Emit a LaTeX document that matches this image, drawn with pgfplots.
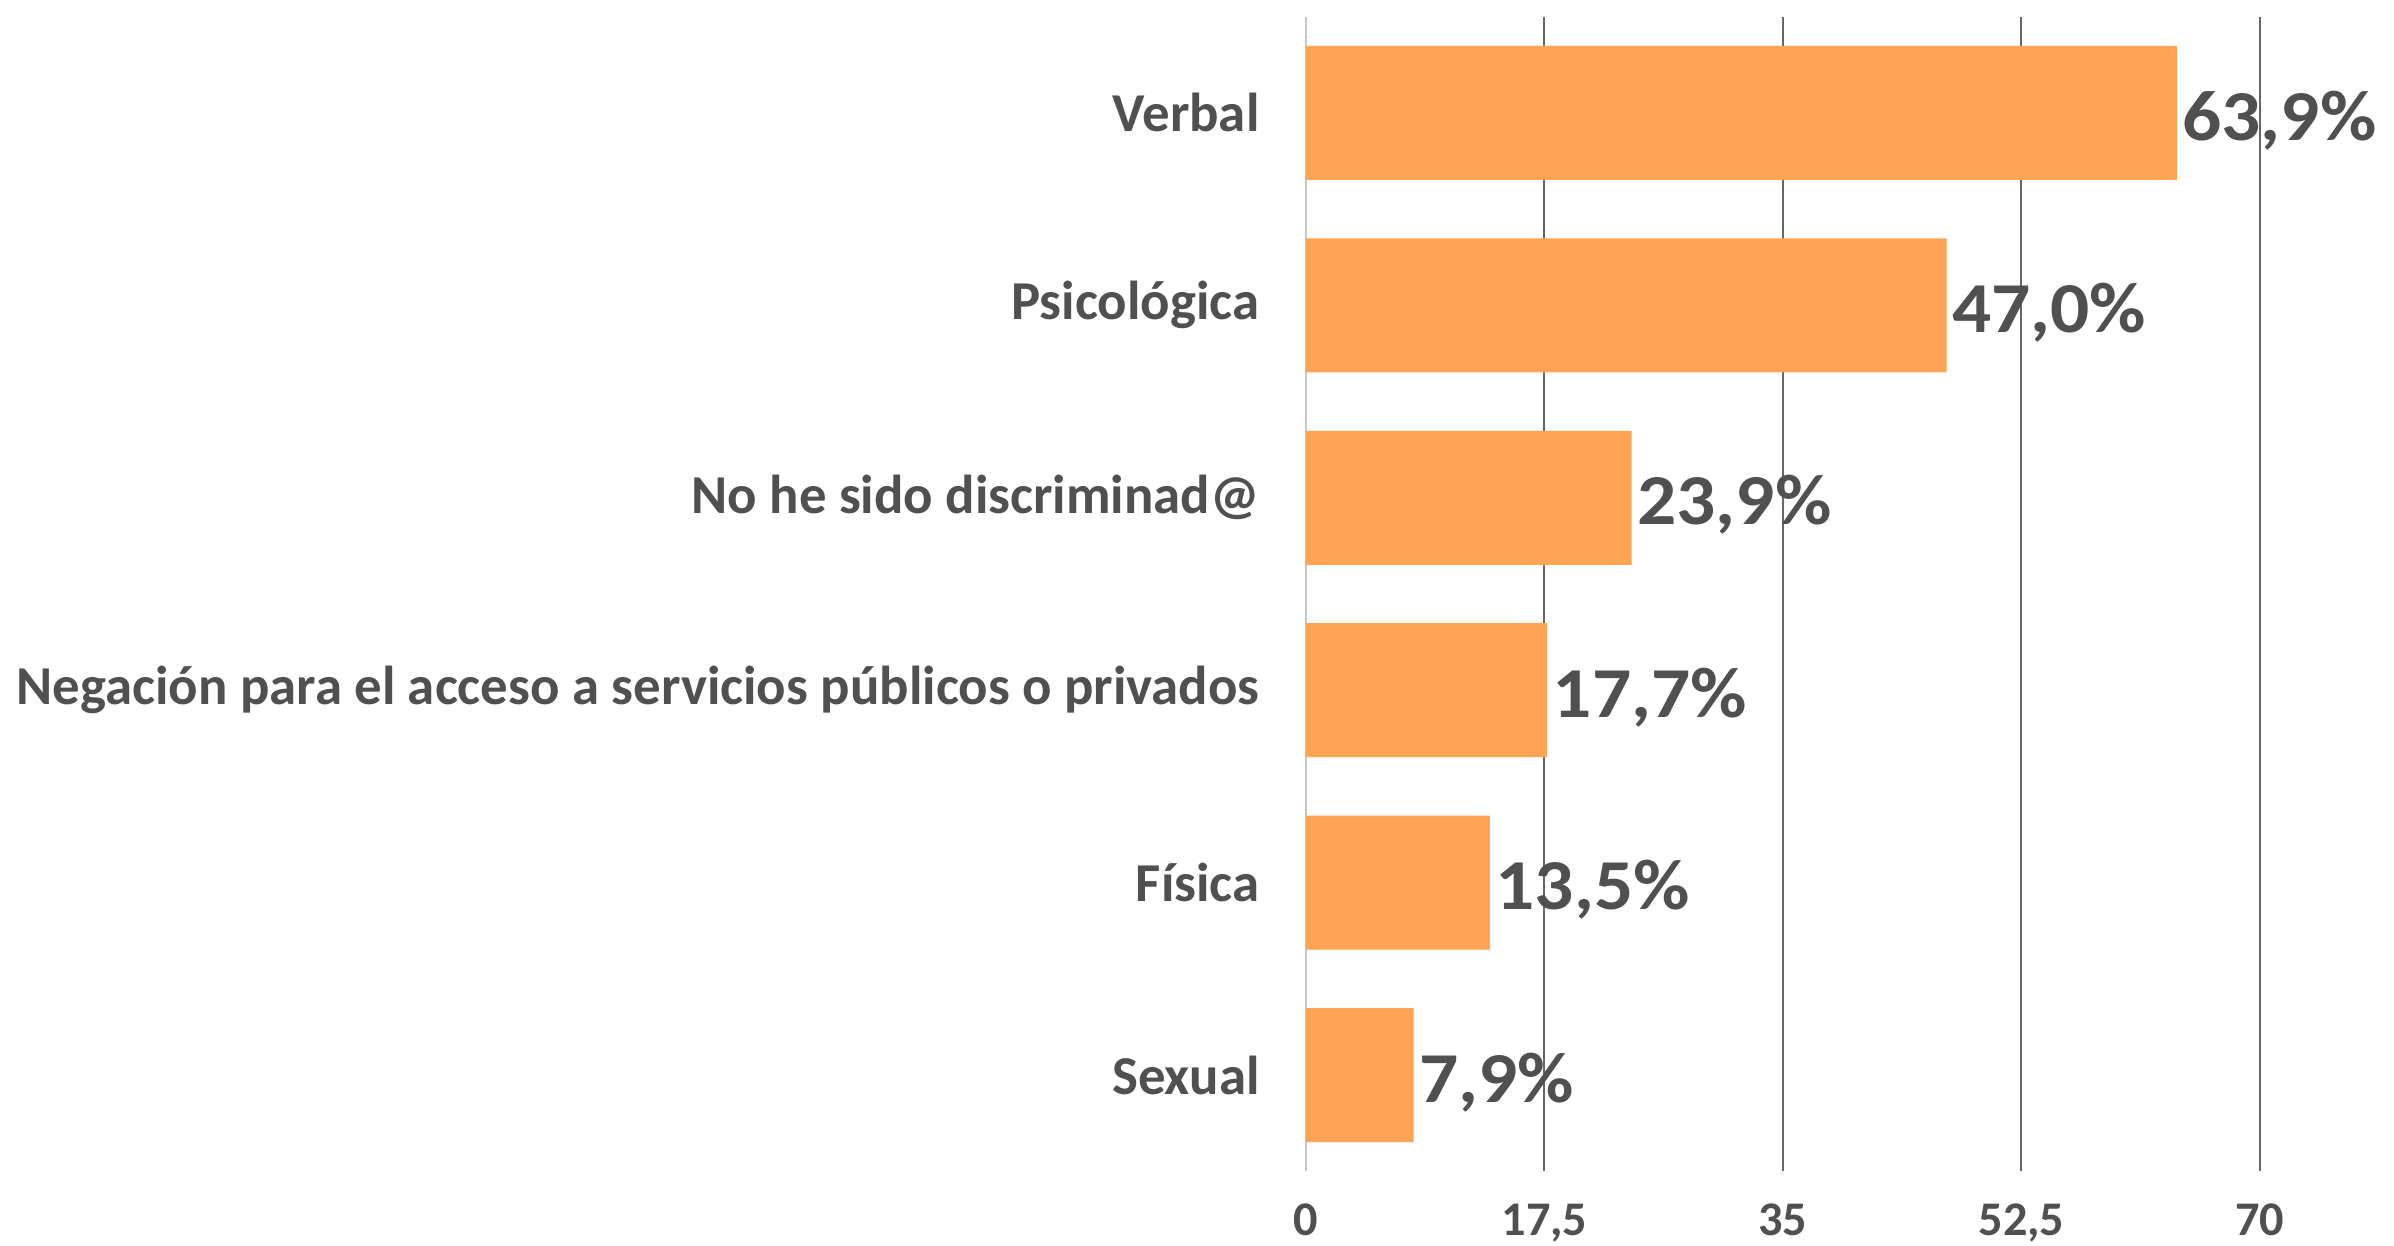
\documentclass[border=0pt]{standalone}
\usepackage{pgfplots}
\pgfplotsset{compat=1.18}
\usepackage{fontspec}
\setmainfont{Carlito}
\newfontfamily\valfont[FakeStretch=1.08]{Carlito}
\definecolor{barc}{RGB}{255,163,84}
\definecolor{txt}{RGB}{80,80,80}
\begin{document}
\begin{tikzpicture}
\useasboundingbox (0,0) rectangle (718.2pt,373.8pt);
\begin{axis}[
  at={(391.8pt,22.4pt)}, anchor=south west,
  scale only axis, width=286.2pt, height=346.4pt,
  xbar, bar width=40.2pt,
  xmin=0, xmax=70,
  ymin=-0.5, ymax=5.5, y dir=reverse,
  ytick={0,1,2,3,4,5},
  yticklabels={Verbal,Psicológica,No he sido discriminad@,Negación para el acceso a servicios públicos o privados,Física,Sexual},
  xtick={17.5,35,52.5,70},
  extra x ticks={0},
  extra x tick style={grid style={draw=gray!45, line width=0.6pt}},
  xmajorgrids, grid style={draw=black!60, line width=0.6pt},
  axis line style={draw=none},
  major tick length=0pt,
  /pgf/number format/.cd, use comma, assume math mode=true, 1000 sep={},
  /pgfplots/.cd,
  tick label style={font=\fontsize{16.45}{18}\selectfont\bfseries, text=txt},
  xticklabel style={font=\fontsize{14.5}{16}\selectfont\bfseries, yshift=-6.3pt},
  yticklabel style={xshift=-10.4pt},
  nodes near coords={\pgfmathprintnumber[fixed, fixed zerofill, precision=1, use comma]{\pgfplotspointmeta}\%},
  nodes near coords style={font=\valfont\fontsize{21.5}{24}\selectfont\bfseries, text=txt, anchor=west, inner sep=1.5pt, yshift=-2.2pt},
]
\addplot[fill=barc, draw=none] coordinates {(63.9,0) (47.0,1) (23.9,2) (17.7,3) (13.5,4) (7.9,5)};
\end{axis}
\end{tikzpicture}
\end{document}
